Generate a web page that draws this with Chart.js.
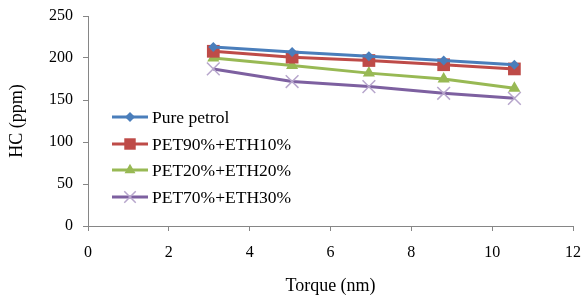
<!DOCTYPE html>
<html lang="en">
  <head>
    <meta charset="UTF-8" />
    <title>HC vs Torque</title>
    <script src="https://cdn.jsdelivr.net/npm/chart.js@4.4.0/dist/chart.umd.min.js"></script>
    <style>
      html, body { margin: 0; padding: 0; background: #fff; }
      #wrap { width: 587px; height: 301px; }
    </style>
  </head>
  <body>
    <div id="wrap"><canvas id="chart" width="587" height="301"></canvas></div>
    <script>
      // values
      const torque = [3.1, 5.05, 6.95, 8.8, 10.55];
      const purePetrol = [213, 207, 202, 197, 192];
      const pet90eth10 = [208, 201, 197, 192, 187];
      const pet20eth20 = [200, 191, 182, 175, 164];
      const pet70eth30 = [187, 172, 166, 158, 152];
      const xTicks = [0, 2, 4, 6, 8, 10, 12];
      const yTicks = [0, 50, 100, 150, 200, 250];
      const seriesNames = ["Pure petrol", "PET90%+ETH10%", "PET20%+ETH20%", "PET70%+ETH30%"];

      const serif = "'Liberation Serif', 'Times New Roman', serif";
      const axisGray = "#868686";

      function pts(vals) {
        return torque.map((t, i) => ({ x: t, y: vals[i] }));
      }

      const styles = [
        { color: "#4A7EBB", point: "rectRot", radius: 5 },
        { color: "#BE4B48", point: "rect", radius: 9 },
        { color: "#98B954", point: "triangle", radius: 7 },
        { color: "#7D60A0", point: "crossRot", radius: 9 },
      ];
      const allVals = [purePetrol, pet90eth10, pet20eth20, pet70eth30];

      const datasets = allVals.map((vals, i) => {
        const isCross = styles[i].point === "crossRot";
        return {
          label: seriesNames[i],
          data: pts(vals),
          borderColor: styles[i].color,
          backgroundColor: styles[i].color,
          pointBackgroundColor: isCross ? "#B7A6CC" : styles[i].color,
          pointBorderColor: isCross ? "#B7A6CC" : styles[i].color,
          pointBorderWidth: isCross ? 1.5 : 0,
          borderWidth: 3,
          pointStyle: styles[i].point,
          pointRadius: styles[i].radius,
          tension: 0,
          fill: false,
        };
      });

      // legend drawn inside the plot, like the spreadsheet original
      const insideLegend = {
        id: "insideLegend",
        afterDraw(chart) {
          const ctx = chart.ctx;
          const x0 = 112, x1 = 148, tx = 152;
          const ys = [117, 144, 170, 197];
          ctx.save();
          chart.data.datasets.forEach((ds, i) => {
            const y = ys[i];
            ctx.strokeStyle = ds.borderColor;
            ctx.lineWidth = 3;
            ctx.beginPath();
            ctx.moveTo(x0, y);
            ctx.lineTo(x1, y);
            ctx.stroke();
            const isCross = ds.pointStyle === "crossRot";
            ctx.fillStyle = ds.pointBackgroundColor;
            ctx.strokeStyle = ds.pointBorderColor;
            ctx.lineWidth = isCross ? 1.5 : 0;
            Chart.helpers.drawPoint(ctx, {
              pointStyle: ds.pointStyle,
              radius: ds.pointStyle === "rectRot" ? 5 : ds.pointRadius * 0.9,
              borderWidth: ds.pointBorderWidth,
            }, (x0 + x1) / 2, y);
            ctx.fillStyle = "#000";
            ctx.font = "17.5px " + serif;
            ctx.textBaseline = "middle";
            ctx.textAlign = "left";
            ctx.fillText(ds.label, tx, y + 1);
          });
          ctx.restore();
        },
      };

      new Chart(document.getElementById("chart"), {
        type: "line",
        data: { datasets },
        plugins: [insideLegend],
        options: {
          responsive: false,
          animation: false,
          layout: { padding: { top: 16, right: 14, left: 0, bottom: 0 } },
          plugins: { legend: { display: false }, tooltip: { enabled: false } },
          scales: {
            x: {
              type: "linear",
              min: 0,
              max: 12,
              afterBuildTicks: (s) => { s.ticks = xTicks.map((v) => ({ value: v })); },
              afterFit: (s) => { s.height = 75; s.paddingRight = 0; s.paddingLeft = 0; },
              border: { color: axisGray, width: 1 },
              grid: { drawOnChartArea: false, drawTicks: true, tickLength: 5, color: axisGray },
              ticks: { color: "#000", padding: 12, font: { family: serif, size: 16 } },
              title: {
                display: true,
                text: "Torque (nm)",
                color: "#000",
                padding: { top: 8 },
                font: { family: serif, size: 18 },
              },
            },
            y: {
              min: 0,
              max: 250,
              afterBuildTicks: (s) => { s.ticks = yTicks.map((v) => ({ value: v })); },
              afterFit: (s) => { s.width = 88; s.paddingTop = 0; s.paddingBottom = 0; },
              border: { color: axisGray, width: 1 },
              grid: { drawOnChartArea: false, drawTicks: true, tickLength: 5, color: axisGray },
              ticks: { color: "#000", padding: 10, font: { family: serif, size: 16 } },
              title: {
                display: true,
                text: "HC (ppm)",
                color: "#000",
                padding: { top: 6, bottom: 4 },
                font: { family: serif, size: 18 },
              },
            },
          },
        },
      });
    </script>
  </body>
</html>
